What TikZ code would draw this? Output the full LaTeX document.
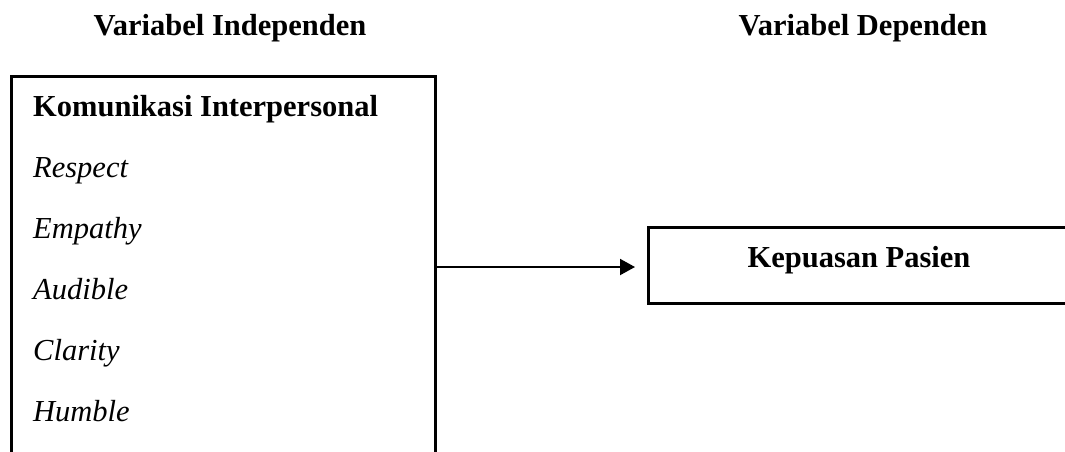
\documentclass[tikz,border=0pt]{standalone}
\usepackage{fontspec}
\setmainfont{Liberation Serif}
\usetikzlibrary{arrows.meta}
\begin{document}
\begin{tikzpicture}[x=1pt,y=-1pt,
  boxline/.style={draw=black,line width=2.6pt,rectangle,inner sep=0pt},
  title/.style={font=\fontsize{30.5}{36}\selectfont\bfseries,anchor=base,inner sep=0pt},
  item/.style={font=\fontsize{30.5}{36}\selectfont\itshape,anchor=base west,inner sep=0pt},
  head/.style={font=\fontsize{30.5}{36}\selectfont\bfseries,anchor=base west,inner sep=0pt},
  conn/.style={line width=2pt,-{Triangle[length=15pt,width=16pt]}}]
\useasboundingbox (0,0) rectangle (1065,451);
\begin{scope}
\clip (0,0) rectangle (1065,451);
\node[boxline,minimum width=424pt,minimum height=420pt,anchor=north west] (indep) at (10,75) {};
\node[boxline,minimum width=440pt,minimum height=76pt,anchor=north west] (dep) at (647,226) {};
\end{scope}
\node[title] (t1) at (230,35) {Variabel Independen};
\node[title] (t2) at (863,35) {Variabel Dependen};
\node[head] (k) at (33,116) {Komunikasi Interpersonal};
\node[item] (i1) at (33,177) {Respect};
\node[item] (i2) at (33,238) {Empathy};
\node[item] (i3) at (33,299) {Audible};
\node[item] (i4) at (33,360) {Clarity};
\node[item] (i5) at (33,421) {Humble};
\node[title] (kp) at (859,267) {Kepuasan Pasien};
\coordinate (a0) at (indep.east |- 0,267);
\coordinate (a1) at (dep.west |- 0,267);
\draw[conn,shorten >=12pt] (a0) -- (a1);
\end{tikzpicture}
\end{document}
